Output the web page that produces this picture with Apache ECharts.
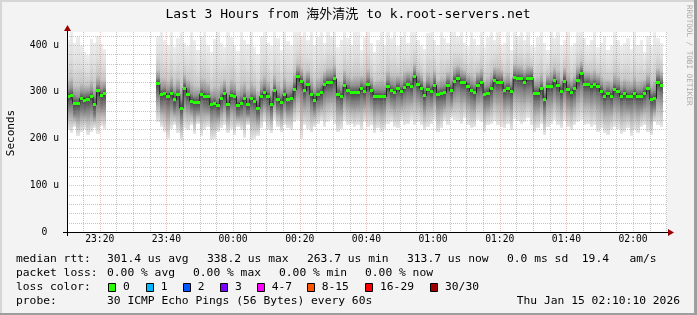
<!DOCTYPE html>
<html><head><meta charset="utf-8">
<script src="https://cdn.jsdelivr.net/npm/echarts@6.0.0/dist/echarts.min.js"></script>
<style>html,body{margin:0;padding:0;background:#f3f3f3;overflow:hidden}#c{width:697px;height:315px}</style>
</head><body><div id="c"></div>
<script>
// ---------- data (minutes after 23:00 on Jan 14; one slot per minute) ----------
const titleText = 'Last 3 Hours from 海外清洗 to k.root-servers.net';
const startMinute = 10;                 // first slot 23:10
const xMin = 10 + 10/60, xMax = 190 + 10/60;   // 23:10:10 .. 02:10:10
const xTickValues = [20,40,60,80,100,120,140,160,180];
const xTickLabels = ['23:20','23:40','00:00','00:20','00:40','01:00','01:20','01:40','02:00'];
const xGridMinutes = [15,20,25,30,35,40,45,50,55,60,65,70,75,80,85,90,95,100,105,110,115,120,125,130,135,140,145,150,155,160,165,170,175,180,185,190];
const yMax = 428;
const yTickValues = [0,100,200,300,400];
const yTickLabels = ['0  ','100 u','200 u','300 u','400 u'];
const yGridValues = [20,40,60,80,100,120,140,160,180,200,220,240,260,280,300,320,340,360,380,400,420];
const N = null;
// median rtt (us)
const medianRtt = [
 290,293,274,275,286,282,284,289,273,302,292,296,
 N,N,N,N,N,N,N,N,N,N,N,N,N,N,N,
 318,295,296,290,296,283,295,265,308,295,
 280,278,278,295,290,289,272,276,270,285,
 296,273,293,290,271,276,286,272,285,280,
 263.7,290,299,290,272,302,284,278,295,283,
 286,305,333,322,302,315,294,281,295,298,
 315,320,320,328,295,289,313,302,298,298,
 298,307,301,315,302,290,290,290,290,312,
 302,299,307,301,309,316,311,333,315,308,
 292,306,301,314,295,296,298,314,302,323,
 329,321,320,311,302,298,314,319,295,297,
 307,325,321,320,302,307,301,331,329,328,
 321,328,329,296,296,307,284,311,311,324,
 313,301,323,304,298,307,325,338.2,315,316,
 311,316,311,301,290,296,290,305,301,290,
 296,290,290,296,290,290,296,307,284,286,
 321,313.7
];
// slowest ping per slot
const pingMax = [
 410,428,405,418,400,385,378,412,405,420,402,392,
 N,N,N,N,N,N,N,N,N,N,N,N,N,N,N,
 420,428,410,400,428,395,415,428,405,398,
 428,410,390,420,428,400,385,412,428,405,
 395,428,418,400,388,428,410,402,428,395,
 380,420,428,405,398,428,415,390,428,408,
 400,428,428,420,428,410,428,400,418,428,
 405,428,420,428,395,410,428,415,400,428,
 428,390,418,428,405,385,410,428,400,428,
 415,428,398,420,428,405,428,428,410,400,
 392,425,428,410,400,428,415,405,428,428,
 420,428,405,398,428,412,400,428,395,418,
 428,410,428,400,405,428,390,428,420,428,
 410,428,400,395,418,428,405,390,428,415,
 428,400,410,428,398,405,428,428,415,400,
 410,428,395,405,420,390,400,428,410,398,
 405,415,392,428,400,410,385,420,400,428,
 415,405
];
// upper edge of the dense core
const pingHigh = [
 305,308,292,290,300,298,299,303,290,316,306,310,
 N,N,N,N,N,N,N,N,N,N,N,N,N,N,N,
 330,308,310,305,312,300,308,285,322,310,
 296,292,294,308,305,302,288,290,286,298,
 310,290,306,304,288,292,300,288,298,295,
 282,305,314,305,290,316,300,294,310,298,
 302,322,345,336,318,330,310,298,310,314,
 330,334,336,342,312,305,328,318,314,314,
 314,322,318,330,318,306,305,306,305,326,
 318,315,322,316,324,332,326,346,330,324,
 308,322,316,330,310,312,314,328,318,338,
 344,336,335,326,318,314,330,334,310,312,
 322,340,336,335,318,322,316,345,344,342,
 336,342,344,312,312,322,300,326,326,338,
 328,316,338,320,314,322,340,352,330,332,
 326,330,326,316,306,312,306,320,316,306,
 312,305,306,312,305,306,312,322,300,302,
 336,330
];
// lower edge of the dense core
const pingLow = [
 268,270,252,256,262,258,262,265,250,276,268,272,
 N,N,N,N,N,N,N,N,N,N,N,N,N,N,N,
 295,272,275,268,274,262,270,248,284,274,
 262,258,260,274,268,266,254,258,252,264,
 275,255,272,270,252,256,266,254,264,260,
 246,270,278,270,254,282,264,258,275,262,
 266,284,308,300,282,294,274,262,276,278,
 294,298,300,305,276,270,292,282,278,278,
 278,286,282,294,282,270,272,270,272,292,
 282,280,288,282,290,296,292,312,295,288,
 272,286,282,294,276,276,278,294,282,302,
 308,300,300,290,282,278,294,298,275,276,
 286,304,300,300,282,286,280,310,308,306,
 300,306,308,276,276,286,264,290,290,302,
 292,280,302,284,278,286,304,316,294,296,
 290,296,290,280,270,276,270,284,280,270,
 276,270,270,276,270,270,276,286,264,266,
 300,294
];
// fastest ping per slot
const pingMin = [
 218,212,224,206,215,220,208,214,222,210,226,220,
 N,N,N,N,N,N,N,N,N,N,N,N,N,N,N,
 235,225,215,200,220,230,212,195,222,218,
 228,210,232,205,218,225,196,200,215,222,
 230,212,220,208,225,218,202,230,196,198,
 205,222,235,218,212,240,225,215,230,222,
 218,235,240,198,228,220,215,225,232,238,
 225,235,240,232,215,220,238,228,232,225,
 228,218,235,225,230,212,222,215,220,232,
 236,225,222,238,228,232,240,230,235,228,
 218,225,232,240,215,222,238,228,245,240,
 238,232,245,230,222,225,240,235,215,228,
 232,238,230,225,222,232,218,242,238,232,
 235,245,230,215,222,232,208,225,232,240,
 230,222,238,225,218,230,235,240,228,232,
 225,230,215,222,212,208,218,225,220,210,
 215,222,205,218,212,225,228,215,208,235,
 230,225
];
// legend texts
const statsRtt = ['median rtt:','301.4 us avg','338.2 us max','263.7 us min','313.7 us now','0.0 ms sd  19.4   am/s'];
const statsLoss = ['packet loss:','0.00 % avg','0.00 % max','0.00 % min','0.00 % now'];
const lossLabels = ['0','1','2','3','4-7','8-15','16-29','30/30'];
const lossColors = ['#26ff00','#00b8ff','#0059ff','#7e00ff','#ff00ff','#ff5500','#ff0000','#a10000'];
const probeText = ['probe:','30 ICMP Echo Pings (56 Bytes) every 60s'];
const stampText = 'Thu Jan 15 02:10:10 2026';

// ---------- layout / style ----------
const MONO = '"DejaVu Sans Mono","Noto Sans CJK SC",monospace';
const G = {left:67, top:32, right:667, bottom:232};
const rttX = [16,107,207,307,407,507];
const lossX = [16,107,193,279,365];
const boxX = [108,145.7,182.7,220,256.7,306.7,365,430];
const lineY = [259,273,287,301.5];
const LEG_FONT = '11.3px ' + MONO;
const MINOR = 'rgba(140,140,140,0.5)';
const MAJOR = 'rgba(225,110,110,0.45)';

// ---------- build series data ----------
const smokeData = [], medData = [], stepData = [];
medianRtt.forEach((m, i) => {
  const k = startMinute + i;
  stepData.push([k + 0.5, m]);
  if (m == null) return;
  smokeData.push([k, pingMin[i], pingLow[i], m, pingHigh[i], pingMax[i]]);
  medData.push([k, m]);
});

function clamp01(v){return Math.min(1, Math.max(0, v));}
function renderSmoke(params, api) {
  const cs = params.coordSys;
  const k = api.value(0);
  const lo = api.value(1), cLo = api.value(2), med = api.value(3), cHi = api.value(4), hi = api.value(5);
  let x0 = Math.round(api.coord([k, hi])[0]);
  let x1 = Math.round(api.coord([k + 1, hi])[0]);
  x0 = Math.max(x0, cs.x); x1 = Math.min(x1, cs.x + cs.width);
  const yHi = Math.max(api.coord([k, hi])[1], cs.y);
  const yLo = api.coord([k, lo])[1];
  const yCH = api.coord([k, cHi])[1], yMed = api.coord([k, med])[1], yCL = api.coord([k, cLo])[1];
  const h = yLo - yHi;
  const f = y => clamp01((y - yHi) / h);
  const grad = new echarts.graphic.LinearGradient(0, 0, 0, 1, [
    {offset: 0, color: '#ededed'},
    {offset: f(yHi + (yCH - yHi) * 0.45), color: '#dedede'},
    {offset: f(yHi + (yCH - yHi) * 0.8), color: '#c6c6c6'},
    {offset: f(yCH), color: '#929292'},
    {offset: f(yMed), color: '#464646'},
    {offset: f(yCL), color: '#7e7e7e'},
    {offset: f(yCL + (yLo - yCL) * 0.45), color: '#b6b6b6'},
    {offset: f(yCL + (yLo - yCL) * 0.8), color: '#d6d6d6'},
    {offset: 1, color: '#e8e8e8'}
  ]);
  return {type: 'rect', shape: {x: x0, y: Math.round(yHi), width: x1 - x0, height: Math.round(yLo) - Math.round(yHi)},
          style: {fill: grad}};
}
function renderMedian(params, api) {
  const cs = params.coordSys;
  const k = api.value(0), m = api.value(1);
  let x0 = Math.round(api.coord([k, m])[0]);
  let x1 = Math.round(api.coord([k + 1, m])[0]);
  x0 = Math.max(x0, cs.x); x1 = Math.min(x1, cs.x + cs.width);
  const y = api.coord([k, m])[1];
  return {type: 'rect', shape: {x: x0, y: Math.round(y - 1.5), width: x1 - x0, height: 3},
          style: {fill: '#26ff00'}};
}
function renderVGrid(params, api) {
  const cs = params.coordSys;
  const v = api.value(0);
  const x = Math.round(api.coord([v, 0])[0]) + 0.5;
  const major = xTickValues.indexOf(v) >= 0;
  return {type: 'line', shape: {x1: x, y1: cs.y, x2: x, y2: cs.y + cs.height},
          style: {stroke: major ? MAJOR : MINOR, lineWidth: 1, lineDash: [1, 1]}};
}
function renderHGrid(params, api) {
  const cs = params.coordSys;
  const v = api.value(1);
  const y = Math.round(api.coord([xMin, v])[1]) + 0.5;
  const major = yTickValues.indexOf(v) >= 0;
  return {type: 'line', shape: {x1: cs.x, y1: y, x2: cs.x + cs.width, y2: y},
          style: {stroke: major ? MAJOR : MINOR, lineWidth: 1, lineDash: [1, 1]}};
}

// ---------- graphic decorations ----------
function txt(x, y, text, opts) {
  opts = opts || {};
  return {type: 'text', x: x, y: y, rotation: opts.rotation || 0, silent: true,
    style: {text: text, font: opts.font || LEG_FONT, fill: opts.fill || '#000',
      align: opts.align || 'left', textAlign: opts.align || 'left',
      verticalAlign: 'middle', textVerticalAlign: 'middle'}};
}
const graphics = [];
// frame shading
graphics.push({type:'rect', shape:{x:0,y:0,width:697,height:2}, style:{fill:'#d6d6d6'}, silent:true});
graphics.push({type:'rect', shape:{x:0,y:0,width:2,height:315}, style:{fill:'#d6d6d6'}, silent:true});
graphics.push({type:'rect', shape:{x:694,y:0,width:3,height:315}, style:{fill:'#9e9e9e'}, silent:true});
graphics.push({type:'rect', shape:{x:0,y:313,width:697,height:2}, style:{fill:'#9e9e9e'}, silent:true});
// title, axis name, watermark
graphics.push(txt(348, 15, titleText, {font: '13px ' + MONO, align: 'center'}));
graphics.push(txt(11, 133, 'Seconds', {font: '11px ' + MONO, align: 'center', rotation: Math.PI / 2}));
graphics.push(txt(689, 5, 'RRDTOOL / TOBI OETIKER', {font: '7.6px ' + MONO, fill: '#ababab', rotation: -Math.PI / 2}));
// axes lines + arrows
graphics.push({type:'line', shape:{x1:63, y1:G.bottom + 0.5, x2:669, y2:G.bottom + 0.5}, style:{stroke:'#000', lineWidth:1}, silent:true, z:10});
graphics.push({type:'line', shape:{x1:G.left + 0.5, y1:G.bottom + 4, x2:G.left + 0.5, y2:30}, style:{stroke:'#000', lineWidth:1}, silent:true, z:10});
graphics.push({type:'polygon', shape:{points:[[668,229],[674,232.5],[668,236]]}, style:{fill:'#9a0000'}, silent:true, z:10});
graphics.push({type:'polygon', shape:{points:[[64,31],[67.5,25],[71,31]]}, style:{fill:'#9a0000'}, silent:true, z:10});
// legend lines
statsRtt.forEach((t, i) => graphics.push(txt(rttX[i], lineY[0], t)));
statsLoss.forEach((t, i) => graphics.push(txt(lossX[i], lineY[1], t)));
graphics.push(txt(16, lineY[2], 'loss color:'));
lossLabels.forEach((t, i) => {
  graphics.push({type:'rect', shape:{x:Math.round(boxX[i]) + 0.5, y:283.5, width:7, height:8},
    style:{fill:lossColors[i], stroke:'#000', lineWidth:1}, silent:true});
  graphics.push(txt(boxX[i] + 15, lineY[2], t));
});
graphics.push(txt(16, lineY[3], probeText[0]));
graphics.push(txt(107, lineY[3], probeText[1]));
graphics.push(txt(680, lineY[3], stampText, {align: 'right'}));

// ---------- chart ----------
const chart = echarts.init(document.getElementById('c'), null, {renderer: 'canvas'});
chart.setOption({
  animation: false,
  backgroundColor: '#f3f3f3',
  grid: {left: G.left, top: G.top, right: 697 - G.right, bottom: 315 - G.bottom, backgroundColor: '#ffffff', show: true, borderWidth: 0},
  xAxis: {type: 'value', min: xMin, max: xMax,
    axisLine: {show: false}, axisTick: {show: false}, splitLine: {show: false},
    axisLabel: {customValues: xTickValues, margin: 3, fontFamily: MONO, fontSize: 9.7, color: '#000',
      formatter: v => { const i = xTickValues.findIndex(t => Math.abs(t - v) < 1e-6); return i >= 0 ? xTickLabels[i] : ''; }}},
  yAxis: {type: 'value', min: 0, max: yMax,
    axisLine: {show: false}, axisTick: {show: false}, splitLine: {show: false},
    axisLabel: {customValues: yTickValues, margin: 8, fontFamily: MONO, fontSize: 9.7, color: '#000', align: 'right',
      formatter: v => { const i = yTickValues.indexOf(v); return i >= 0 ? yTickLabels[i] : ''; }}},
  series: [
    {type: 'custom', name: 'smoke', renderItem: renderSmoke, data: smokeData, encode: {x: 0, y: 3}, clip: true, z: 1, silent: true},
    {type: 'custom', name: 'vgrid', renderItem: renderVGrid, data: xGridMinutes.map(v => [v, 0]), encode: {x: 0, y: 1}, z: 2, silent: true},
    {type: 'custom', name: 'hgrid', renderItem: renderHGrid, data: yGridValues.map(v => [xMin, v]), encode: {x: 0, y: 1}, z: 2, silent: true},
    {type: 'line', name: 'median line', data: stepData, step: 'middle', showSymbol: false, connectNulls: false,
      lineStyle: {color: '#202020', width: 1}, z: 3, silent: true},
    {type: 'custom', name: 'median', renderItem: renderMedian, data: medData, encode: {x: 0, y: 1}, clip: true, z: 4, silent: true}
  ],
  graphic: graphics
});
</script></body></html>
